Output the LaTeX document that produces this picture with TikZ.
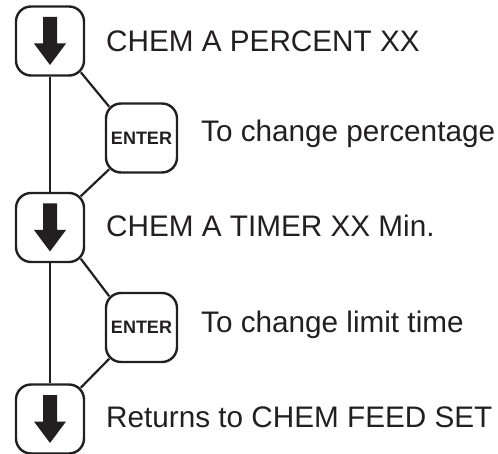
\documentclass[tikz,border=0pt]{standalone}
\usepackage{fontspec}
\setmainfont{Liberation Sans}
\definecolor{ink}{HTML}{231F20}
\begin{document}
\begin{tikzpicture}[x=1pt,y=1pt,
  keybox/.style={draw=ink,line width=2.4pt,rounded corners=15pt,minimum width=68pt,minimum height=69pt,inner sep=0pt},
  arrowbox/.style={keybox,path picture={\fill[ink,sharp corners] (path picture bounding box.center)
      ++(-7,24) -- ++(14,0) -- ++(0,-26.5) -- ++(9,0) -- ++(-16,-21.5) -- ++(-16,21.5) -- ++(9,0) -- cycle;}},
  enterbox/.style={keybox,minimum width=71pt,font=\fontsize{18}{18}\selectfont\bfseries,text=ink},
  lbl/.style={anchor=base west,inner sep=0pt,font=\fontsize{29.7}{29.7}\selectfont,text=ink},
  conn/.style={draw=ink,line width=2.2pt}]
\useasboundingbox (0,0) rectangle (498,-454);
\node[arrowbox] (a1) at (50,-41) {};
\node[arrowbox] (a2) at (50,-227.5) {};
\node[arrowbox] (a3) at (50,-419) {};
\node[enterbox] (e1) at (141.5,-138) {ENTER};
\node[enterbox] (e2) at (141.5,-327.5) {ENTER};
\node[lbl] (t1) at (106,-52) {CHEM A PERCENT XX};
\node[lbl] (t2) at (201,-142) {To change percentage};
\node[lbl] (t3) at (106,-237) {CHEM A TIMER XX Min.};
\node[lbl] (t4) at (201,-333) {To change limit time};
\node[lbl] (t5) at (106,-427) {Returns to CHEM FEED SET};
\draw[conn] (a1.south) -- (a2.north);
\draw[conn] (a2.south) -- (a3.north);
\draw[conn] ([shift={(-4.4,4.4)}]a1.south east) -- ([shift={(4.4,-4.4)}]e1.north west);
\draw[conn] ([shift={(4.4,4.4)}]e1.south west) -- ([shift={(-4.4,-4.4)}]a2.north east);
\draw[conn] ([shift={(-4.4,4.4)}]a2.south east) -- ([shift={(4.4,-4.4)}]e2.north west);
\draw[conn] ([shift={(4.4,4.4)}]e2.south west) -- ([shift={(-4.4,-4.4)}]a3.north east);
\end{tikzpicture}
\end{document}
